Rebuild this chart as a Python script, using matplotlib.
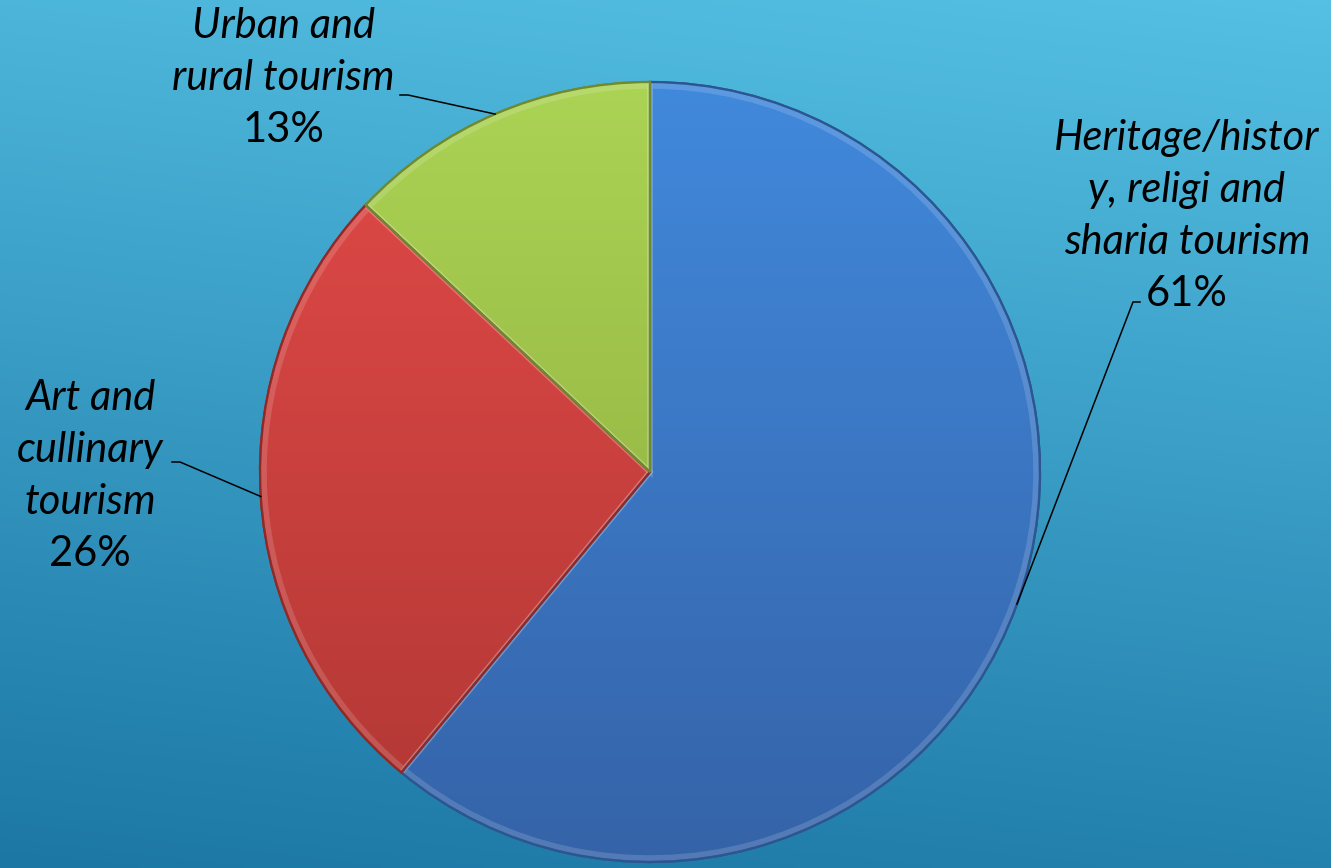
"""
plot.py - tourism type share pie, redrawn from a slide screenshot.
"""
import numpy as np
import matplotlib
matplotlib.use("Agg")
import matplotlib.pyplot as plt
from matplotlib.colors import LinearSegmentedColormap
from matplotlib.patches import Wedge

# data
labels = ["Heritage/histor\ny, religi and\nsharia tourism",
          "Art and\ncullinary\ntourism",
          "Urban and\nrural tourism"]
shares = [61, 26, 13]
# (top colour, bottom colour) per slice
slice_colors = [("#4189DC", "#3563A8"),
                ("#E24A48", "#B03734"),
                ("#ABD354", "#89A63A")]
edge_colors = ["#2C5690", "#8E2A28", "#6E8A2C"]
# label anchor (text centre x, top y) in figure pixels, leader elbow
label_pos = [(1187, 112), (90, 372), (283, 0)]
elbows = [((1140, 302), (1133, 302)),
          ((172, 462), (180, 462)),
          ((400, 95), (408, 95))]

W, H = 1331, 868
CX, CY, R = 650, 472, 390

fig = plt.figure(figsize=(W / 100, H / 100), dpi=100)
ax = fig.add_axes([0, 0, 1, 1])

# background gradient, lighter at the top right
yy, xx = np.mgrid[0:1:200j, 0:1:200j]
t = np.clip(0.85 * yy + 0.15 * (1 - xx), 0, 1)
bg = LinearSegmentedColormap.from_list("bg", ["#55C0E3", "#1C77A5"])
ax.imshow(t, cmap=bg, extent=(0, W, 0, H), origin="upper", aspect="auto",
          zorder=0, interpolation="bicubic")

wedges, _ = ax.pie(shares, startangle=90, counterclock=False, radius=R,
                   center=(CX, H - CY), frame=True,
                   wedgeprops=dict(linewidth=1.6))

grad = np.linspace(0, 1, 256).reshape(-1, 1)
for w, (c0, c1), ec in zip(wedges, slice_colors, edge_colors):
    w.set_facecolor(c1)
    w.set_edgecolor(ec)
    w.set_zorder(2)
    cm = LinearSegmentedColormap.from_list("s", [c1, c0])
    im = ax.imshow(grad, cmap=cm, origin="lower", aspect="auto",
                   extent=(CX - R, CX + R, H - CY - R, H - CY + R), zorder=3)
    im.set_clip_path(w)
    # thin light bevel just inside the edge
    ax.add_patch(Wedge(w.center, w.r - 4, w.theta1, w.theta2, fill=False,
                       edgecolor="white", alpha=0.15, linewidth=4, zorder=4))
    ax.add_patch(Wedge(w.center, w.r, w.theta1, w.theta2, fill=False,
                       edgecolor=ec, linewidth=1.6, zorder=5))

ax.set_xlim(0, W)
ax.set_ylim(0, H)
ax.set_aspect("equal")
ax.axis("off")

fs = 30
line_h = 52
for w, lab, pct, (lx, ly), (e0, e1) in zip(wedges, labels, shares,
                                           label_pos, elbows):
    lines = lab.split("\n")
    for i, ln in enumerate(lines):
        ax.text(lx, H - (ly + line_h * (i + 0.5)), ln, ha="center",
                va="center", fontsize=fs, family="Lato", style="italic",
                color="black", zorder=6)
    ax.text(lx, H - (ly + line_h * (len(lines) + 0.5)), f"{pct}%",
            ha="center", va="center", fontsize=fs, family="Lato",
            color="black", zorder=6)
    mid = np.deg2rad((w.theta1 + w.theta2) / 2)
    px = CX + R * np.cos(mid)
    py = H - CY + R * np.sin(mid)
    ax.plot([e0[0], e1[0], px], [H - e0[1], H - e1[1], py],
            color="black", linewidth=1.1, zorder=6)

fig.savefig("out.png", dpi=100)
